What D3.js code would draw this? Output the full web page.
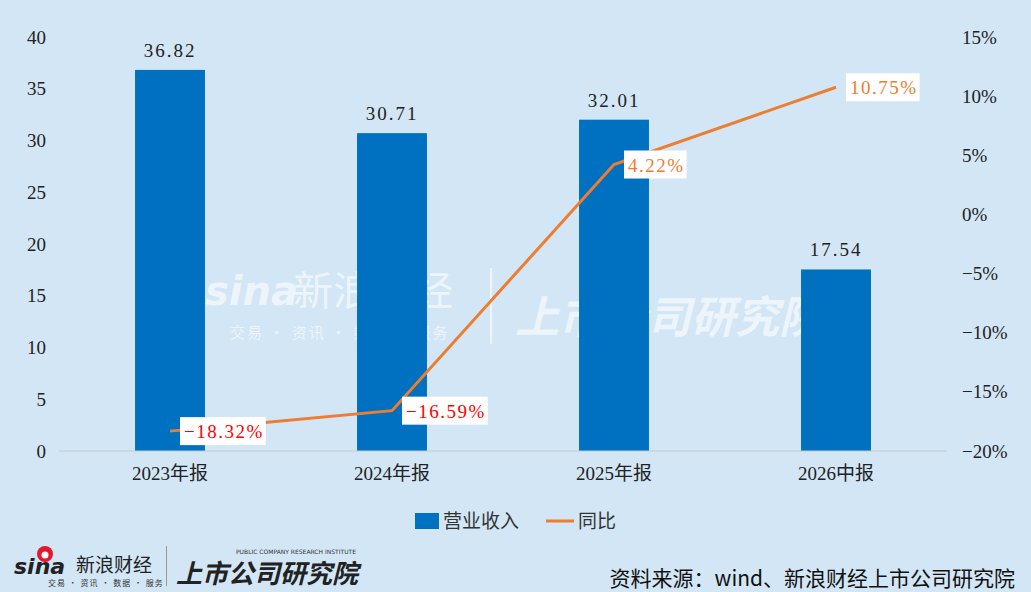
<!DOCTYPE html>
<html lang="zh">
  <head>
    <meta charset="UTF-8" />
    <title>营业收入及同比</title>
    <script src="https://d3js.org/d3.v7.min.js"></script>
    <style>
      body { margin: 0; background: #d2e6f5; }
    </style>
  </head>
  <body>
    <div id="chart"></div>
    <script>
      // data
      const categories = ['2023年报', '2024年报', '2025年报', '2026中报']
      const revenue = [36.82, 30.71, 32.01, 17.54]
      const yoy = [-18.32, -16.59, 4.22, 10.75]
      const leftTicks = [0, 5, 10, 15, 20, 25, 30, 35, 40]
      const rightTicks = [-20, -15, -10, -5, 0, 5, 10, 15]

      const W = 1031, H = 592
      const margin = { top: 37, right: 84, bottom: 141, left: 59 }
      const width = W - margin.left - margin.right
      const height = H - margin.top - margin.bottom

      const numFont = '"Liberation Serif", "Noto Sans CJK SC", serif'
      const cjkFont = '"Noto Sans CJK SC", sans-serif'

      const svg = d3.select('#chart').append('svg')
        .attr('width', W).attr('height', H)
      svg.append('rect').attr('width', W).attr('height', H).attr('fill', '#d2e6f5')

      // watermark
      const wm = svg.append('g').attr('fill', '#ffffff').attr('opacity', 0.6)
      wm.append('text').attr('x', 205).attr('y', 305)
        .attr('font-family', 'DejaVu Sans').attr('font-weight', 'bold').attr('font-style', 'italic')
        .attr('font-size', 40).text('sina')
      wm.append('text').attr('x', 293).attr('y', 305)
        .attr('font-family', cjkFont).attr('font-size', 40).text('新浪财经')
      wm.append('text').attr('x', 230).attr('y', 338)
        .attr('font-family', cjkFont).attr('font-size', 15).attr('letter-spacing', 2)
        .text('交易 · 资讯 · 数据 · 服务')
      wm.append('rect').attr('x', 490).attr('y', 268).attr('width', 2).attr('height', 76)
      wm.append('text').attr('x', 515).attr('y', 333)
        .attr('font-family', cjkFont).attr('font-weight', 'bold').attr('font-style', 'italic')
        .attr('font-size', 44).text('上市公司研究院')

      const g = svg.append('g').attr('transform', `translate(${margin.left},${margin.top})`)

      const x = d3.scaleBand().domain(categories).range([0, width]).paddingInner(0.685).paddingOuter(0.3425)
      const y = d3.scaleLinear().domain([0, 40]).range([height, 0])
      const y2 = d3.scaleLinear().domain([-20, 15]).range([height, 0])
      const cx = d => x(d) + x.bandwidth() / 2

      // left axis
      g.append('g')
        .call(d3.axisLeft(y).tickValues(leftTicks).tickSize(0).tickPadding(13))
        .call(a => a.select('.domain').remove())
        .selectAll('text')
        .attr('font-family', numFont).attr('font-size', 19).attr('fill', '#222')

      // right axis
      g.append('g').attr('transform', `translate(${width},0)`)
        .call(d3.axisRight(y2).tickValues(rightTicks).tickSize(0).tickPadding(15)
          .tickFormat(d => (d < 0 ? '\u2212' + Math.abs(d) : d) + '%'))
        .call(a => a.select('.domain').remove())
        .selectAll('text')
        .attr('font-family', numFont).attr('font-size', 19).attr('fill', '#222')

      // bars
      g.selectAll('.bar').data(revenue).join('rect')
        .attr('class', 'bar')
        .attr('x', (d, i) => x(categories[i]))
        .attr('y', d => y(d))
        .attr('width', x.bandwidth())
        .attr('height', d => height - y(d))
        .attr('fill', '#0070c0')

      // bar labels
      g.selectAll('.blabel').data(revenue).join('text')
        .attr('class', 'blabel')
        .attr('x', (d, i) => cx(categories[i]))
        .attr('y', d => y(d) - 13)
        .attr('text-anchor', 'middle')
        .attr('font-family', numFont).attr('font-size', 19).attr('letter-spacing', 2)
        .attr('fill', '#222')
        .text(d => d.toFixed(2))

      // baseline
      g.append('line').attr('x1', 0).attr('x2', width)
        .attr('y1', height).attr('y2', height)
        .attr('stroke', '#c8c8c8').attr('stroke-width', 1)

      // x axis labels
      g.append('g').attr('transform', `translate(0,${height})`)
        .call(d3.axisBottom(x).tickSize(0).tickPadding(16))
        .call(a => a.select('.domain').remove())
        .selectAll('text')
        .attr('font-family', numFont).attr('font-size', 19).attr('fill', '#222')

      // yoy line
      const line = d3.line().x((d, i) => cx(categories[i])).y(d => y2(d))
      g.append('path').datum(yoy)
        .attr('d', line)
        .attr('fill', 'none')
        .attr('stroke', '#ed7d31').attr('stroke-width', 3)

      // yoy labels
      const lab = g.selectAll('.ylabel').data(yoy).join('g')
        .attr('class', 'ylabel')
        .attr('transform', (d, i) => `translate(${cx(categories[i]) + 10},${y2(d)})`)
      lab.append('text')
        .attr('x', 4).attr('y', 7)
        .attr('font-family', numFont).attr('font-size', 19).attr('letter-spacing', 1.5)
        .attr('fill', d => (d < 0 ? '#ff0000' : '#ed7d31'))
        .text(d => (d < 0 ? '\u2212' + Math.abs(d).toFixed(2) : d.toFixed(2)) + '%')
      lab.each(function () {
        const t = d3.select(this).select('text')
        const b = t.node().getBBox()
        d3.select(this).insert('rect', 'text')
          .attr('x', 0).attr('y', -14)
          .attr('width', b.width + 6).attr('height', 28)
          .attr('fill', '#ffffff')
      })

      // legend
      const lg = svg.append('g').attr('transform', 'translate(415,521)')
      lg.append('rect').attr('x', 0).attr('y', -8).attr('width', 24).attr('height', 16).attr('fill', '#0070c0')
      lg.append('text').attr('x', 28).attr('y', 7)
        .attr('font-family', cjkFont).attr('font-size', 19).attr('fill', '#333').text('营业收入')
      lg.append('line').attr('x1', 131).attr('x2', 159).attr('y1', 0).attr('y2', 0)
        .attr('stroke', '#ed7d31').attr('stroke-width', 3)
      lg.append('text').attr('x', 163).attr('y', 7)
        .attr('font-family', cjkFont).attr('font-size', 19).attr('fill', '#333').text('同比')

      // bottom-left logo
      const logo = svg.append('g')
      logo.append('circle').attr('cx', 45).attr('cy', 554).attr('r', 8).attr('fill', '#e6162d')
      logo.append('circle').attr('cx', 45).attr('cy', 555).attr('r', 3.5).attr('fill', '#ffffff')
      logo.append('text').attr('x', 14).attr('y', 574)
        .attr('font-family', 'DejaVu Sans').attr('font-weight', 'bold').attr('font-style', 'italic')
        .attr('font-size', 22).attr('fill', '#222').text('sina')
      logo.append('text').attr('x', 76).attr('y', 572)
        .attr('font-family', cjkFont).attr('font-size', 19).attr('fill', '#222').text('新浪财经')
      logo.append('text').attr('x', 48).attr('y', 586)
        .attr('font-family', cjkFont).attr('font-size', 8).attr('letter-spacing', 1).attr('fill', '#333')
        .text('交易 · 资讯 · 数据 · 服务')
      logo.append('rect').attr('x', 166).attr('y', 546).attr('width', 1).attr('height', 40).attr('fill', '#999')
      logo.append('text').attr('x', 236).attr('y', 554)
        .attr('font-family', 'DejaVu Sans').attr('font-size', 6).attr('fill', '#333')
        .text('PUBLIC COMPANY RESEARCH INSTITUTE')
      logo.append('text').attr('x', 176).attr('y', 583)
        .attr('font-family', cjkFont).attr('font-weight', 'bold').attr('font-style', 'italic')
        .attr('font-size', 26).attr('fill', '#222').text('上市公司研究院')

      // source
      svg.append('text').attr('x', 1015).attr('y', 586)
        .attr('text-anchor', 'end')
        .attr('font-family', cjkFont).attr('font-size', 21).attr('fill', '#111')
        .text('资料来源：wind、新浪财经上市公司研究院')
    </script>
  </body>
</html>
